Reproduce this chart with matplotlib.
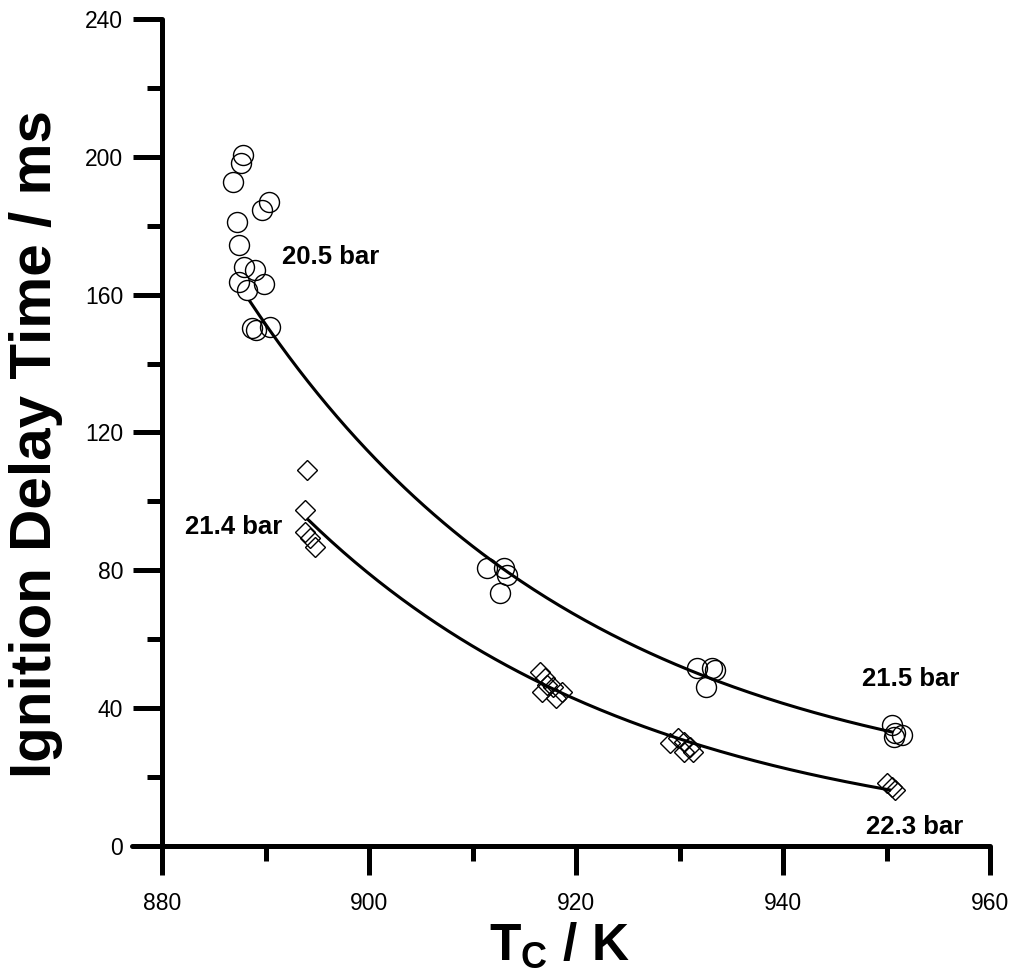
import numpy as np
import matplotlib
matplotlib.use('Agg')
import matplotlib.pyplot as plt
from matplotlib.ticker import MultipleLocator

plt.rcParams['font.family'] = ['Liberation Sans', 'DejaVu Sans']
plt.rcParams['mathtext.fontset'] = 'custom'
plt.rcParams['mathtext.rm'] = 'Liberation Sans'
plt.rcParams['mathtext.bf'] = 'Liberation Sans:bold'

# Measured ignition delays, 20.5 / 21.5 bar series (circles)
tc_circle = [887.8, 887.6, 886.9, 890.3, 889.7, 887.2, 887.4, 887.9, 889.0,
             887.4, 889.8, 888.2, 888.7, 889.1, 890.4,
             911.4, 913.0, 913.3, 912.7,
             931.7, 933.1, 933.4, 932.6,
             950.5, 950.8, 951.5, 950.7]
tau_circle = [200.5, 198.3, 192.8, 187.0, 184.6, 181.2, 174.4, 168.1, 167.2,
              163.7, 163.2, 161.3, 150.2, 149.7, 150.7,
              80.6, 80.6, 78.6, 73.3,
              51.6, 51.6, 51.1, 46.2,
              35.1, 32.7, 32.2, 31.7]

# Measured ignition delays, 21.4 / 22.3 bar series (diamonds)
tc_diamond = [894.0, 893.8, 893.8, 894.3, 894.8,
              916.5, 917.0, 916.7, 917.8, 918.6, 918.1, 917.2,
              929.1, 929.9, 930.4, 931.0, 930.4, 931.3,
              950.0, 950.5, 950.8]
tau_diamond = [109.1, 97.5, 91.2, 89.3, 86.9,
               50.6, 48.7, 44.8, 46.2, 44.8, 42.9, 46.7,
               29.8, 31.3, 30.3, 28.8, 27.4, 27.4,
               18.2, 17.0, 16.3]

# Exponential decay fits: tau = y0 + A * exp(-(Tc - 880) / t)
fit_circle = dict(y0=11.4, A=190.5, t=32.46, tmin=888.5, tmax=950.5)
fit_diamond = dict(y0=-1.08, A=147.1, t=32.9, tmin=894.1, tmax=950.3)

labels = ['20.5 bar', '21.4 bar', '21.5 bar', '22.3 bar']
label_x = [891.6, 882.2, 947.6, 948.0]
label_y = [170.9, 92.6, 48.5, 5.5]


def exp_dec(p):
    x = np.linspace(p['tmin'], p['tmax'], 200)
    return x, p['y0'] + p['A'] * np.exp(-(x - 880) / p['t'])


fig = plt.figure(figsize=(10.13, 9.73), dpi=100)
ax = fig.add_axes([0.160, 0.1305, 0.8173, 0.850])

ax.plot(tc_circle, tau_circle, 'o', ms=14.4, mfc='none', mec='black', mew=1.0)
ax.plot(tc_diamond, tau_diamond, 'D', ms=10.5, mfc='none', mec='black', mew=1.0)

for p in (fit_circle, fit_diamond):
    xs, ys = exp_dec(p)
    ax.plot(xs, ys, color='black', lw=2.2)

for txt, x, y in zip(labels, label_x, label_y):
    ax.text(x, y, txt, fontsize=18.5, fontweight='bold', ha='left', va='center')

ax.set_xlim(880, 960)
ax.set_ylim(0, 240)
ax.xaxis.set_major_locator(MultipleLocator(20))
ax.xaxis.set_minor_locator(MultipleLocator(10))
ax.yaxis.set_major_locator(MultipleLocator(40))
ax.yaxis.set_minor_locator(MultipleLocator(20))

for side in ('top', 'right'):
    ax.spines[side].set_visible(False)
for side in ('left', 'bottom'):
    ax.spines[side].set_linewidth(3.6)
    ax.spines[side].set_capstyle('round')

ax.tick_params(which='major', direction='out', length=21, width=3.6, labelsize=16.5)
ax.tick_params(which='minor', direction='out', length=11, width=3.6)
ax.tick_params(axis='x', which='major', pad=12)
ax.tick_params(axis='y', which='major', pad=7)

# x axis line runs on past the y axis to the end of its ticks
ax.plot([-0.036, 0], [0, 0], transform=ax.transAxes, color='black', lw=3.6,
        solid_capstyle='round', clip_on=False)

ax.set_xlabel(r'$\mathbf{T_C}$ / K', fontsize=37, fontweight='bold')
ax.xaxis.set_label_coords(0.48, -0.090)
ax.set_ylabel('Ignition Delay Time / ms', fontsize=42, fontweight='bold')
ax.yaxis.set_label_coords(-0.12, 0.486)

plt.savefig('out.png', dpi=100)
